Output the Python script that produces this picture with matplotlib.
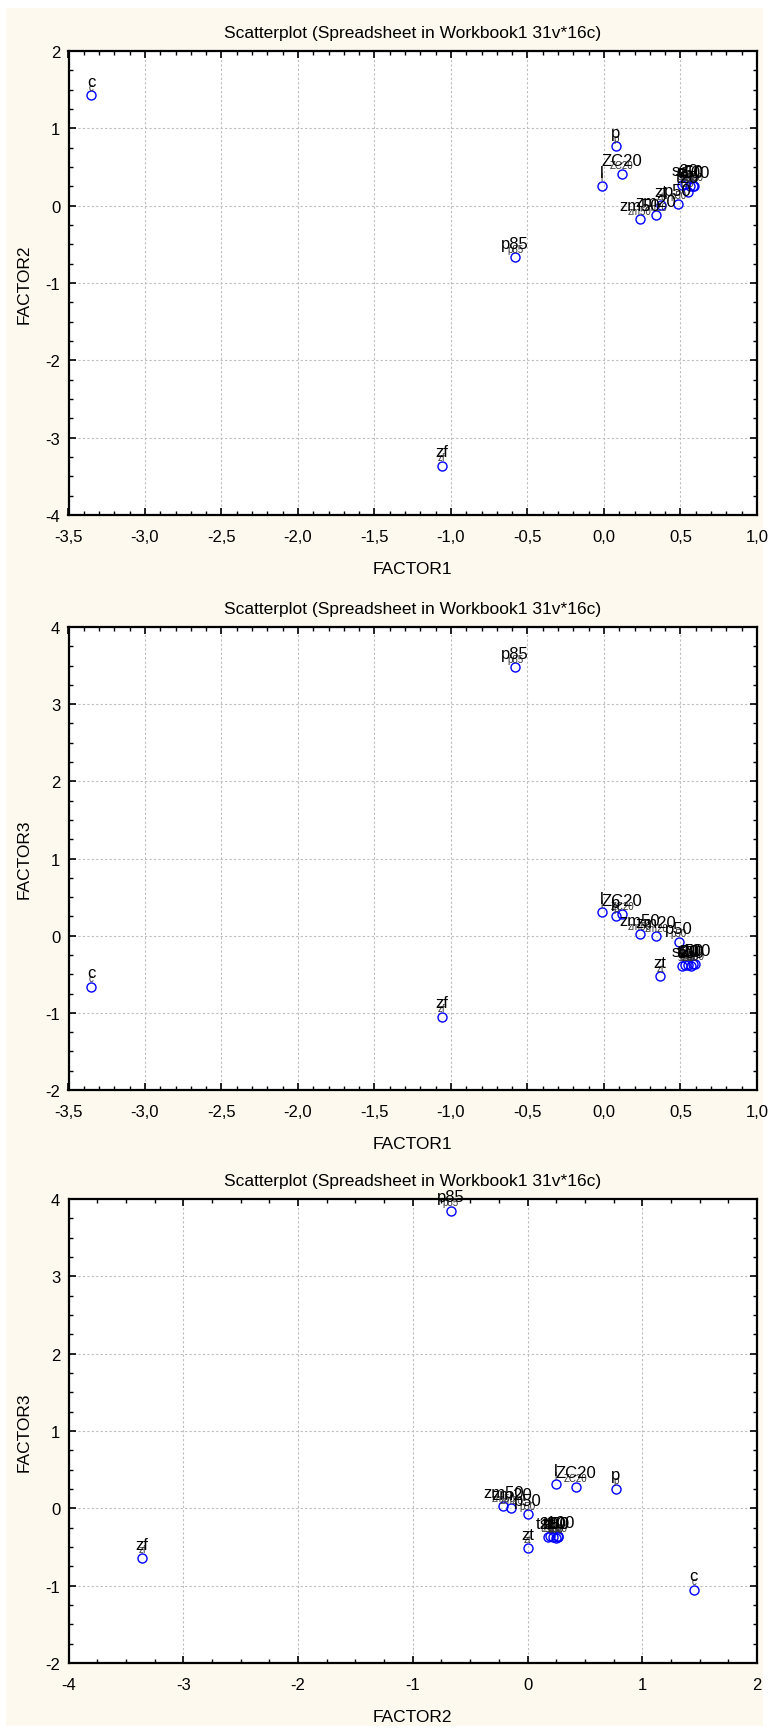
import matplotlib as mpl

mpl.use("Agg")
import matplotlib.pyplot as plt
from matplotlib.patches import Rectangle
from matplotlib.ticker import FuncFormatter, MultipleLocator

plt.rcParams["font.family"] = ["Liberation Sans", "DejaVu Sans"]
plt.rcParams["font.size"] = 12

# Data

title = "Scatterplot (Spreadsheet in Workbook1 31v*16c)"

names = ["c", "zf", "p85", "p", "ZC20", "l", "zm50", "zm20", "p50", "zt",
         "e", "s20", "t20", "s50", "t50", "t100"]

# panel 1: FACTOR1 vs FACTOR2
p1_x = [-3.35, -1.06, -0.58, 0.076, 0.116, -0.015, 0.233, 0.338, 0.484, 0.37,
        0.51, 0.53, 0.547, 0.56, 0.58, 0.59]
p1_y = [1.43, -3.36, -0.67, 0.77, 0.41, 0.255, -0.178, -0.127, 0.023, 0.01,
        0.27, 0.28, 0.183, 0.26, 0.25, 0.255]

# panel 2: FACTOR1 vs FACTOR3
p2_x = [-3.35, -1.06, -0.58, 0.076, 0.12, -0.014, 0.235, 0.341, 0.488, 0.367,
        0.509, 0.53, 0.551, 0.566, 0.58, 0.595]
p2_y = [-0.66, -1.05, 3.48, 0.25, 0.28, 0.306, 0.02, -0.005, -0.079, -0.524,
        -0.39, -0.38, -0.386, -0.39, -0.37, -0.37]

# panel 3: FACTOR2 vs FACTOR3
p3_x = [1.45, -3.36, -0.67, 0.77, 0.42, 0.246, -0.21, -0.14, 0.002, 0.002,
        0.2, 0.22, 0.176, 0.246, 0.266, 0.27]
p3_y = [-1.05, -0.64, 3.85, 0.256, 0.28, 0.31, 0.03, 0.004, -0.077, -0.51,
        -0.36, -0.37, -0.37, -0.38, -0.37, -0.36]

panels = [
    (p1_x, p1_y, "FACTOR1", "FACTOR2", (-3.5, 1.0), (-4, 2), 0.5, 0.1),
    (p2_x, p2_y, "FACTOR1", "FACTOR3", (-3.5, 1.0), (-2, 4), 0.5, 0.1),
    (p3_x, p3_y, "FACTOR2", "FACTOR3", (-4, 2), (-2, 4), 1.0, 0.25),
]

W, H = 769, 1733
fig = plt.figure(figsize=(W / 100, H / 100), dpi=100)
fig.patch.set_facecolor("white")
fig.patches.append(Rectangle((6 / W, 6 / H), 757 / W, 1718 / H, transform=fig.transFigure,
                             facecolor="#FDF9EE", edgecolor="none", zorder=-10))

# axes boxes in pixels: (top, bottom)
boxes = [(52, 516), (628, 1091), (1200, 1664)]
left, right = 68.5, 757


def comma_fmt(decimals):
    def f(v, pos):
        s = f"{v:.{decimals}f}"
        if s.startswith("-") and float(s) == 0:
            s = s[1:]
        return s.replace(".", ",")
    return FuncFormatter(f)


for (xs, ys, xl, yl, xlim, ylim, xmaj, xmin), (top, bot) in zip(panels, boxes):
    ax = fig.add_axes([left / W, 1 - bot / H, (right - left) / W, (bot - top) / H])
    ax.set_zorder(1)
    ax.set_facecolor("white")
    ax.set_xlim(*xlim)
    ax.set_ylim(*ylim)
    ax.xaxis.set_major_locator(MultipleLocator(xmaj))
    ax.xaxis.set_minor_locator(MultipleLocator(xmin))
    ax.yaxis.set_major_locator(MultipleLocator(1))
    ax.yaxis.set_minor_locator(MultipleLocator(0.25))
    ax.xaxis.set_major_formatter(comma_fmt(1 if xmaj < 1 else 0))
    ax.yaxis.set_major_formatter(comma_fmt(0))
    ax.tick_params(which="both", direction="in", top=True, right=True, color="black")
    ax.tick_params(which="major", length=5, width=1.2, labelsize=12)
    ax.tick_params(axis="x", which="major", pad=10)
    ax.tick_params(axis="y", which="major", pad=6)
    ax.tick_params(which="minor", length=3, width=1.0)
    for sp in ax.spines.values():
        sp.set_linewidth(1.6)
    ax.grid(True, which="major", color="#BDBDBD", linestyle=(0, (2, 2)), linewidth=0.8)
    ax.set_axisbelow(True)

    ax.plot(xs, ys, "o", markersize=6.5, markerfacecolor="none",
            markeredgecolor="#0000FF", markeredgewidth=1.0, zorder=3)
    for x, y, n in zip(xs, ys, names):
        ax.annotate(n, xy=(x, y), xytext=(0, 2.5), textcoords="offset points",
                    ha="center", va="bottom", fontsize=7, color="#333333", zorder=4)
        ax.annotate(n, xy=(x, y), xytext=(0, 4.5), textcoords="offset points",
                    ha="center", va="bottom", fontsize=12, color="black", zorder=5)

    ax.set_title(title, fontsize=12.5, pad=10)
    ax.set_xlabel(xl, fontsize=12.5, labelpad=12)
    ax.set_ylabel(yl, fontsize=12.5, labelpad=10)

fig.savefig("out.png", dpi=100, facecolor=fig.get_facecolor())
